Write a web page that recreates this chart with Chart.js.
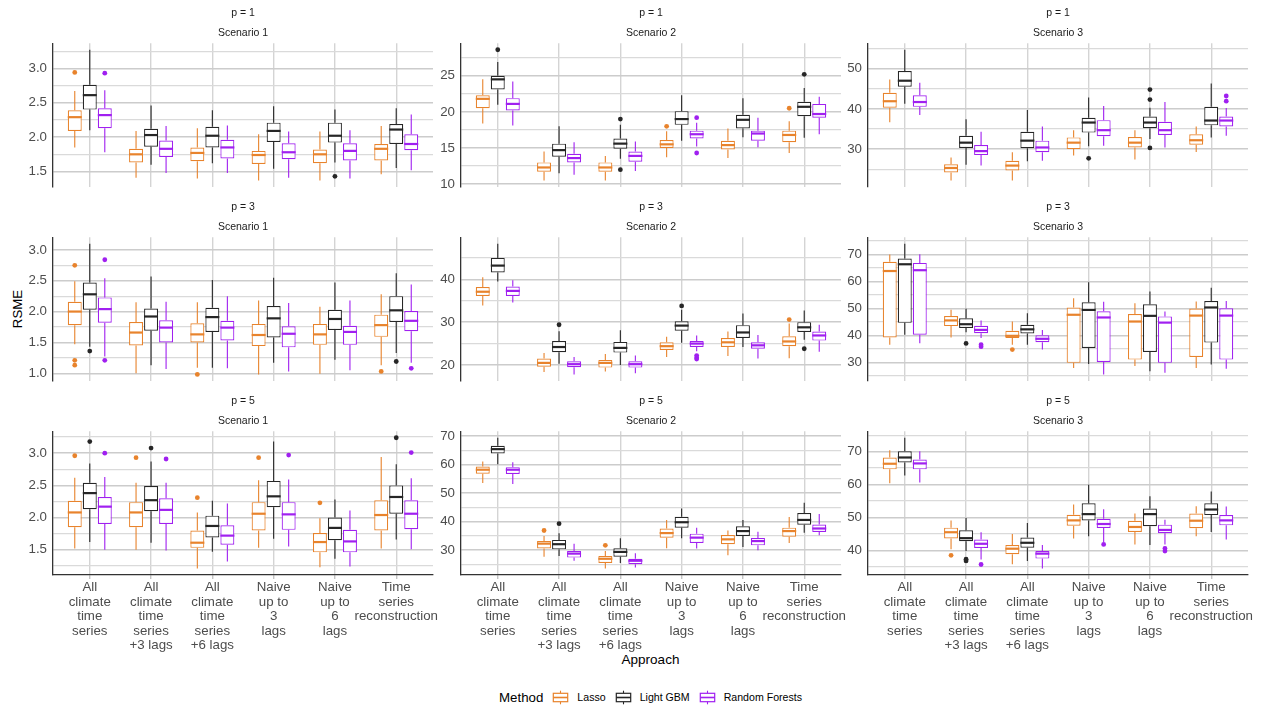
<!DOCTYPE html>
<html lang="en">
<head>
<meta charset="UTF-8">
<title>RSME by approach</title>
<style>
  body { margin: 0; background: #fff; }
  #page { position: relative; width: 1265px; height: 706px; overflow: hidden;
          font-family: "Liberation Sans", Arial, sans-serif; }
  #ylab { position: absolute; left: -12px; top: 300px; width: 60px; text-align: center;
          font-size: 13.3px; line-height: 18px; transform: rotate(-90deg); }
  #xlab { position: absolute; left: 53px; width: 1195px; top: 651px; text-align: center;
          font-size: 13.5px; line-height: 18px; }
  #legend { position: absolute; left: 53px; width: 1195px; top: 688px; height: 18px;
            display: flex; justify-content: center; align-items: center; }
  #legend .ttl { font-size: 13.3px; margin-right: 9px; }
  #legend .lab { font-size: 10.6px; margin: 0 9px 0 8px; }
  #legend .lab:last-child { margin-right: 0; }
  #legend svg { display: block; }
</style>
</head>
<body>
<div id="page">
  <div id="ylab">RSME</div>
  <div id="xlab">Approach</div>
  <div id="legend"><span class="ttl">Method</span></div>
</div>

<script src="https://cdn.jsdelivr.net/npm/chart.js"></script>
<script>
// categories / methods
const approaches = ["All climate time series", "All climate time series +3 lags", "All climate time series +6 lags",
                    "Naive up to 3 lags", "Naive up to 6 lags", "Time series reconstruction"];
const approachLines = [["All", "climate", "time", "series"], ["All", "climate", "time", "series", "+3 lags"],
                       ["All", "climate", "time", "series", "+6 lags"], ["Naive", "up to", "3", "lags"],
                       ["Naive", "up to", "6", "lags"], ["Time", "series", "reconstruction"]];
const methods = ["Lasso", "Light GBM", "Random Forests"];
const methodColors = ["#E8832C", "#262626", "#A020F0"];

// each box: [lower whisker, q1, median, q3, upper whisker], one per approach
// outliers: [approach index, method index, value]

// p = 1, scenario 1
const p1s1Lasso = [[1.85,2.09,2.29,2.39,2.67],[1.41,1.63,1.75,1.83,2.09],[1.40,1.65,1.77,1.85,2.13],[1.37,1.61,1.74,1.80,2.04],[1.37,1.62,1.75,1.82,2.08],[1.46,1.66,1.83,1.90,2.16]];
const p1s1Gbm   = [[2.10,2.40,2.61,2.76,3.27],[1.60,1.86,2.03,2.12,2.46],[1.62,1.85,2.02,2.15,2.39],[1.54,1.93,2.09,2.21,2.45],[1.63,1.92,2.02,2.21,2.40],[1.55,1.90,2.11,2.19,2.42]];
const p1s1Rf    = [[1.78,2.13,2.32,2.42,2.68],[1.48,1.71,1.83,1.95,2.16],[1.48,1.69,1.85,1.96,2.17],[1.41,1.68,1.78,1.91,2.08],[1.40,1.66,1.80,1.91,2.10],[1.52,1.81,1.90,2.04,2.33]];
const p1s1Out   = [[0,0,2.94],[0,2,2.93],[4,1,1.43]];
const p1s1Breaks = [1.5, 2.0, 2.5, 3.0];

// p = 1, scenario 2
const p1s2Lasso = [[18.4,20.5,21.8,22.3,24.5],[10.5,11.7,12.3,13.0,14.5],[10.5,11.7,12.3,13.0,13.9],[13.7,15.0,15.5,16.1,17.3],[13.6,14.8,15.4,16.0,17.7],[14.3,15.8,16.8,17.4,18.7]];
const p1s2Gbm   = [[21.0,23.1,24.5,25.0,26.9],[11.5,13.8,14.7,15.6,18.0],[13.5,14.9,15.6,16.3,18.2],[16.0,18.2,19.0,20.1,22.3],[16.5,17.7,18.9,19.6,21.9],[16.4,19.4,20.7,21.4,23.3]];
const p1s2Rf    = [[18.1,20.2,21.1,21.9,24.2],[11.3,13.0,13.6,14.2,15.8],[11.8,13.1,13.9,14.5,15.9],[15.2,16.3,16.9,17.4,18.5],[15.1,16.0,17.0,17.4,19.2],[16.9,19.2,19.7,21.1,22.1]];
const p1s2Out   = [[0,1,28.6],[2,1,19.0],[2,1,12.0],[3,0,18.0],[3,2,19.2],[3,2,14.3],[5,0,20.5],[5,1,25.2]];
const p1s2Breaks = [10, 15, 20, 25];

// p = 1, scenario 3
const p1s3Lasso = [[36.7,40.3,41.9,44.0,47.3],[22.2,24.2,25.3,26.2,27.9],[22.2,24.7,25.9,27.1,29.2],[28.4,30.0,31.6,32.9,34.7],[27.4,30.4,31.6,33.0,34.7],[29.3,31.1,32.2,33.7,35.6]];
const p1s3Gbm   = [[41.3,45.5,47.0,49.4,54.7],[26.1,30.3,31.6,33.3,37.4],[27.0,30.2,32.1,34.3,39.7],[30.7,34.1,36.6,37.8,42.8],[32.5,35.2,36.6,38.1,40.3],[32.9,35.9,37.1,40.5,46.3]];
const p1s3Rf    = [[38.5,40.5,41.7,43.4,46.5],[25.9,28.5,29.5,31.0,34.3],[27.1,29.2,30.4,32.1,35.6],[30.8,33.2,34.7,37.2,40.7],[30.4,33.5,34.7,36.8,41.7],[33.3,35.6,37.1,38.1,40.2]];
const p1s3Out   = [[3,1,27.7],[4,1,44.8],[4,1,42.3],[4,1,30.3],[5,2,43.2],[5,2,41.9]];
const p1s3Breaks = [30, 40, 50];

// p = 3, scenario 1
const p3s1Lasso = [[1.47,1.78,2.00,2.16,2.49],[1.00,1.45,1.66,1.83,2.15],[1.09,1.50,1.63,1.81,2.15],[0.98,1.44,1.62,1.80,2.18],[0.99,1.46,1.63,1.80,2.08],[1.13,1.59,1.78,1.95,2.28]];
const p3s1Gbm   = [[1.43,2.03,2.28,2.47,3.10],[1.13,1.69,1.92,2.05,2.57],[1.09,1.67,1.91,2.06,2.51],[1.17,1.58,1.89,2.09,2.55],[1.22,1.70,1.88,2.03,2.47],[1.33,1.83,2.02,2.25,2.62]];
const p3s1Rf    = [[1.27,1.82,2.04,2.23,2.54],[1.07,1.50,1.74,1.86,2.16],[1.08,1.53,1.74,1.85,2.25],[1.03,1.42,1.64,1.76,2.14],[1.05,1.46,1.67,1.77,2.18],[1.17,1.68,1.85,2.01,2.44]];
const p3s1Out   = [[0,0,2.75],[0,0,1.21],[0,0,1.13],[0,1,1.36],[0,2,2.84],[0,2,1.21],[2,0,0.98],[5,0,1.03],[5,1,1.19],[5,2,1.08]];
const p3s1Breaks = [1.0, 1.5, 2.0, 2.5, 3.0];

// p = 3, scenario 2
const p3s2Lasso = [[33.9,36.1,37.1,38.2,40.5],[18.4,19.6,20.5,21.5,22.8],[18.5,19.4,20.5,21.2,22.6],[21.9,23.5,24.4,25.3,26.6],[22.1,24.2,25.3,26.3,27.8],[21.6,24.4,25.5,26.7,29.7]];
const p3s2Gbm   = [[39.5,41.6,43.2,45.0,48.3],[20.3,23.0,24.2,25.6,27.9],[20.0,22.9,24.0,25.4,28.1],[25.2,28.0,29.2,30.2,32.9],[24.2,26.3,27.6,29.3,32.0],[25.9,27.7,28.8,30.0,32.7]];
const p3s2Rf    = [[34.6,36.1,37.3,38.3,39.8],[17.8,19.5,20.2,20.9,21.9],[18.1,19.4,20.2,20.9,22.2],[23.2,24.2,25.0,25.6,26.9],[21.5,23.8,24.6,25.3,27.0],[23.1,25.7,26.9,27.8,29.4]];
const p3s2Out   = [[1,1,29.4],[3,1,33.8],[3,2,22.2],[3,2,21.7],[3,2,21.4],[5,0,30.6],[5,1,23.8]];
const p3s2Breaks = [20, 30, 40];

// p = 3, scenario 3
const p3s3Lasso = [[36.6,39.3,63.9,67.3,70.0],[39.3,43.5,45.6,47.2,49.6],[36.6,39.1,39.9,41.8,45.2],[28.0,29.9,47.7,50.4,53.8],[28.7,31.1,45.2,48.0,52.0],[28.0,32.1,47.4,50.0,52.6]];
const p3s3Gbm   = [[40.3,44.7,66.4,68.5,74.0],[41.2,42.8,44.2,46.4,49.9],[36.6,40.8,42.3,44.0,48.3],[29.5,35.4,49.5,52.3,59.7],[26.8,33.9,47.3,51.6,56.3],[29.3,37.4,50.4,52.8,57.7]];
const p3s3Rf    = [[37.2,40.3,64.2,66.9,70.1],[39.1,40.9,42.1,43.6,45.6],[34.8,37.5,38.8,40.1,42.1],[25.6,30.2,46.7,49.0,52.5],[26.2,29.9,44.8,47.1,48.9],[27.7,31.1,47.4,50.1,52.8]];
const p3s3Out   = [[1,1,37.1],[1,2,36.6],[1,2,35.9],[2,0,34.8]];
const p3s3Breaks = [30, 40, 50, 60, 70];

// p = 5, scenario 1
const p5s1Lasso = [[1.52,1.85,2.08,2.26,2.62],[1.50,1.85,2.08,2.24,2.54],[1.21,1.53,1.61,1.80,2.08],[1.53,1.80,2.06,2.24,2.58],[1.23,1.46,1.62,1.76,1.99],[1.52,1.80,2.04,2.27,2.94]];
const p5s1Gbm   = [[1.62,2.13,2.38,2.54,2.84],[1.61,2.10,2.27,2.49,2.87],[1.47,1.69,1.87,2.03,2.26],[1.67,2.16,2.33,2.57,3.18],[1.36,1.65,1.84,2.00,2.28],[1.66,2.06,2.32,2.50,2.83]];
const p5s1Rf    = [[1.50,1.90,2.17,2.32,2.63],[1.49,1.90,2.12,2.30,2.54],[1.32,1.58,1.72,1.88,2.22],[1.55,1.81,2.05,2.24,2.59],[1.24,1.46,1.63,1.81,2.11],[1.51,1.82,2.06,2.27,2.61]];
const p5s1Out   = [[0,0,2.96],[0,1,3.18],[0,2,3.00],[1,0,2.93],[1,1,3.08],[1,2,2.91],[2,0,2.31],[3,0,2.93],[3,2,2.97],[4,0,2.23],[5,1,3.24],[5,2,3.01]];
const p5s1Breaks = [1.5, 2.0, 2.5, 3.0];

// p = 5, scenario 2
const p5s2Lasso = [[53.5,56.8,58.2,59.3,61.1],[27.7,30.6,32.3,33.2,35.0],[23.6,25.5,27.0,28.0,29.7],[30.7,34.4,36.0,37.6,40.6],[28.2,32.1,33.8,35.3,36.9],[32.5,34.7,36.7,37.9,41.6]];
const p5s2Gbm   = [[60.1,63.9,65.4,66.6,69.4],[28.0,30.3,32.1,33.6,35.9],[25.5,27.7,29.4,30.7,34.2],[34.2,37.9,39.8,41.7,44.6],[31.1,35.0,36.7,38.4,40.6],[36.1,38.9,40.6,43.0,46.6]];
const p5s2Rf    = [[53.2,56.7,58.2,59.1,60.8],[26.3,27.4,28.8,29.7,32.3],[23.9,25.1,26.3,27.0,28.9],[30.6,32.5,34.4,35.8,37.9],[30.0,31.7,33.2,34.3,36.5],[35.2,36.4,37.6,39.0,42.7]];
const p5s2Out   = [[1,0,36.9],[1,1,39.3],[2,0,31.7]];
const p5s2Breaks = [30, 40, 50, 60, 70];

// p = 5, scenario 3
const p5s3Lasso = [[60.4,64.6,66.3,68.2,70.4],[40.3,43.6,45.5,46.9,49.1],[35.8,38.8,40.5,41.6,45.0],[43.6,47.5,49.1,50.8,53.9],[41.8,45.6,47.1,49.0,51.2],[44.3,46.7,49.0,51.2,53.4]];
const p5s3Gbm   = [[62.7,66.7,68.2,70.1,74.2],[39.8,42.8,43.7,46.1,49.8],[36.8,40.8,42.3,43.9,48.3],[44.3,49.1,51.0,54.3,59.9],[41.6,47.3,51.0,52.7,56.4],[45.6,50.7,52.4,54.3,57.9]];
const p5s3Rf    = [[60.6,64.6,66.4,67.6,70.1],[37.2,40.7,42.0,43.3,45.5],[34.5,37.5,39.0,39.8,41.6],[42.5,46.8,48.0,49.6,52.5],[41.8,45.2,46.2,47.8,49.3],[43.3,47.6,49.1,50.7,53.3]];
const p5s3Out   = [[1,0,38.5],[1,1,37.3],[1,1,36.8],[1,2,35.7],[3,2,41.8],[4,2,40.6],[4,2,39.8]];
const p5s3Breaks = [40, 50, 60, 70];

const panels = [
  {p: 1, s: 1, boxes: [p1s1Lasso, p1s1Gbm, p1s1Rf], out: p1s1Out, breaks: p1s1Breaks},
  {p: 1, s: 2, boxes: [p1s2Lasso, p1s2Gbm, p1s2Rf], out: p1s2Out, breaks: p1s2Breaks},
  {p: 1, s: 3, boxes: [p1s3Lasso, p1s3Gbm, p1s3Rf], out: p1s3Out, breaks: p1s3Breaks},
  {p: 3, s: 1, boxes: [p3s1Lasso, p3s1Gbm, p3s1Rf], out: p3s1Out, breaks: p3s1Breaks},
  {p: 3, s: 2, boxes: [p3s2Lasso, p3s2Gbm, p3s2Rf], out: p3s2Out, breaks: p3s2Breaks},
  {p: 3, s: 3, boxes: [p3s3Lasso, p3s3Gbm, p3s3Rf], out: p3s3Out, breaks: p3s3Breaks},
  {p: 5, s: 1, boxes: [p5s1Lasso, p5s1Gbm, p5s1Rf], out: p5s1Out, breaks: p5s1Breaks},
  {p: 5, s: 2, boxes: [p5s2Lasso, p5s2Gbm, p5s2Rf], out: p5s2Out, breaks: p5s2Breaks},
  {p: 5, s: 3, boxes: [p5s3Lasso, p5s3Gbm, p5s3Rf], out: p5s3Out, breaks: p5s3Breaks}
];

// panel placement on the page
const colLeft = [0, 420, 830];
const colWidth = [443, 431, 435];
const axisWidth = [53, 41, 38];
const padRight = [10, 10, 17];
const rowTop = [0, 194, 388];

Chart.defaults.font.family = '"Liberation Sans", Arial, sans-serif';

// whiskers under the boxes, medians and outliers on top
const boxParts = {
    id: "boxParts",
    beforeDatasetsDraw(chart) {
        const ctx = chart.ctx, y = chart.scales.y;
        chart.data.datasets.forEach((ds, k) => {
            ctx.save();
            ctx.strokeStyle = ds.borderColor;
            ctx.lineWidth = 1.1;
            chart.getDatasetMeta(k).data.forEach((bar, i) => {
                const s = ds.stats[i];
                ctx.beginPath();
                ctx.moveTo(bar.x, y.getPixelForValue(s[0]));
                ctx.lineTo(bar.x, y.getPixelForValue(s[1]));
                ctx.moveTo(bar.x, y.getPixelForValue(s[3]));
                ctx.lineTo(bar.x, y.getPixelForValue(s[4]));
                ctx.stroke();
            });
            ctx.restore();
        });
    },
    afterDatasetsDraw(chart) {
        const ctx = chart.ctx, y = chart.scales.y;
        chart.data.datasets.forEach((ds, k) => {
            const bars = chart.getDatasetMeta(k).data;
            ctx.save();
            ctx.strokeStyle = ds.borderColor;
            ctx.fillStyle = ds.borderColor;
            ctx.lineWidth = 2.2;
            bars.forEach((bar, i) => {
                const m = y.getPixelForValue(ds.stats[i][2]);
                ctx.beginPath();
                ctx.moveTo(bar.x - bar.width / 2, m);
                ctx.lineTo(bar.x + bar.width / 2, m);
                ctx.stroke();
            });
            ds.outliers.forEach(o => {
                ctx.beginPath();
                ctx.arc(bars[o[0]].x, y.getPixelForValue(o[2]), 2.4, 0, Math.PI * 2);
                ctx.fill();
            });
            ctx.restore();
        });
    }
};

const page = document.getElementById("page");

panels.forEach((pn, n) => {
    const r = Math.floor(n / 3), c = n % 3;
    const bottomRow = r === 2;
    const h = 43 + 144 + (bottomRow ? 80 : 18);

    const cv = document.createElement("canvas");
    cv.width = colWidth[c];
    cv.height = h;
    cv.style.cssText = "position:absolute;left:" + colLeft[c] + "px;top:" + rowTop[r] + "px;width:" + colWidth[c] + "px;height:" + h + "px";
    page.appendChild(cv);

    // y range like ggplot: data range + 5%
    let all = [];
    pn.boxes.forEach(b => b.forEach(s => all.push(s[0], s[4])));
    pn.out.forEach(o => all.push(o[2]));
    const lo = Math.min(...all), hi = Math.max(...all), ex = (hi - lo) * 0.05;
    const yMin = lo - ex, yMax = hi + ex;

    const step = pn.breaks[1] - pn.breaks[0];
    const isMajor = v => { const q = (v - pn.breaks[0]) / step; return Math.abs(q - Math.round(q)) < 1e-6; };
    let yTicks = [];
    for (let k = -1; k <= 2 * (pn.breaks.length - 1) + 1; k++) {
        const v = +(pn.breaks[0] + k * step / 2).toFixed(6);
        if (v >= yMin && v <= yMax) yTicks.push(v);
    }

    new Chart(cv, {
        type: "bar",
        data: {
            datasets: methods.map((m, k) => ({
                label: m,
                stats: pn.boxes[k],
                outliers: pn.out.filter(o => o[1] === k),
                data: pn.boxes[k].map((s, i) => ({x: i, y: [s[1], s[3]]})),
                backgroundColor: "#ffffff",
                borderColor: methodColors[k],
                borderWidth: 1.2,
                borderSkipped: false,
                categoryPercentage: 0.735,
                barPercentage: 0.93
            }))
        },
        options: {
            responsive: false,
            animation: false,
            layout: {padding: {left: 0, right: padRight[c], top: 0, bottom: bottomRow ? 0 : 18}},
            plugins: {
                legend: {display: false},
                tooltip: {enabled: false},
                title: {display: true, text: "p = " + pn.p, fullSize: false, color: "#1A1A1A",
                        font: {size: 10.5, weight: "normal"}, padding: {top: 7, bottom: 2}},
                subtitle: {display: true, text: "Scenario " + pn.s, fullSize: false, color: "#1A1A1A",
                           font: {size: 10.5, weight: "normal"}, padding: {top: 5, bottom: 4}}
            },
            scales: {
                x: {
                    type: "linear", min: -0.6, max: 5.6, offset: false,
                    afterBuildTicks: ax => { ax.ticks = approaches.map((a, i) => ({value: i})); },
                    afterFit: ax => { ax.height = bottomRow ? 80 : 0; },
                    grid: {offset: false, color: "#D4D4D4", lineWidth: 1.4, drawTicks: bottomRow,
                           tickLength: 4, tickColor: "#C4C4C4"},
                    border: {display: bottomRow, color: "#333333", width: 1.3},
                    ticks: {display: bottomRow, padding: 1, color: "#4D4D4D", autoSkip: false, maxRotation: 0,
                            font: {size: 13.3, lineHeight: 1.1}, callback: v => approachLines[v]}
                },
                y: {
                    min: yMin, max: yMax,
                    afterBuildTicks: ax => { ax.ticks = yTicks.map(v => ({value: v})); },
                    afterFit: ax => { ax.width = axisWidth[c]; },
                    grid: {drawTicks: false,
                           color: ctx => isMajor(ctx.tick.value) ? "#CCCCCC" : "#DADADA",
                           lineWidth: ctx => isMajor(ctx.tick.value) ? 1.4 : 1.2},
                    border: {color: "#333333", width: 1.3},
                    ticks: {padding: 6, color: "#4D4D4D", font: {size: 13.3}, autoSkip: false,
                            callback: v => isMajor(v) ? (step < 1 ? v.toFixed(1) : String(v)) : ""}
                }
            }
        },
        plugins: [boxParts]
    });
});

// legend with boxplot keys
const legend = document.getElementById("legend");
methods.forEach((m, k) => {
    const col = methodColors[k];
    const key = document.createElement("span");
    key.innerHTML = '<svg width="17" height="17" viewBox="0 0 17 17">' +
        '<line x1="8.5" y1="1.7" x2="8.5" y2="4.3" stroke="' + col + '" stroke-width="1.1"/>' +
        '<line x1="8.5" y1="12.7" x2="8.5" y2="15.3" stroke="' + col + '" stroke-width="1.1"/>' +
        '<rect x="1.3" y="4.3" width="14.4" height="8.4" fill="#fff" stroke="' + col + '" stroke-width="1.2"/>' +
        '<line x1="1.3" y1="8.5" x2="15.7" y2="8.5" stroke="' + col + '" stroke-width="1.6"/></svg>';
    legend.appendChild(key);
    const lab = document.createElement("span");
    lab.className = "lab";
    lab.textContent = m;
    legend.appendChild(lab);
});
</script>
</body>
</html>
